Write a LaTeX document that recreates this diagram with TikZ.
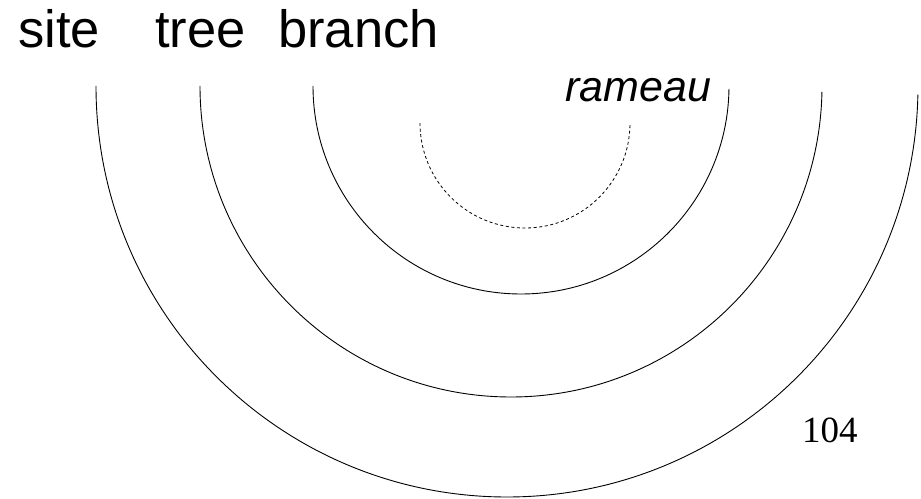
\documentclass[tikz,border=0pt]{standalone}
\usepackage{fontspec}
\setmainfont{Liberation Sans}
\newfontfamily\numfont{Liberation Serif}
\begin{document}
\begin{tikzpicture}[x=1pt,y=1pt,
  ring/.style={line width=0.9pt},
  dashring/.style={line width=0.8pt, dash pattern=on 3pt off 2.6pt},
  biglabel/.style={anchor=base west, inner sep=0pt, font=\fontsize{52.5}{62}\selectfont},
  itlabel/.style={anchor=base west, inner sep=0pt, font=\fontsize{43}{52}\selectfont\itshape},
  pagenum/.style={anchor=base west, inner sep=0pt, font=\fontsize{37}{44}\selectfont\numfont}]
  \useasboundingbox (0,0) rectangle (921,498);

  % nested half rings
  \draw[ring] (96,412) arc[start angle=180, end angle=358.8, radius=411];
  \draw[ring] (200,412) arc[start angle=180, end angle=358.9, radius=311];
  \draw[ring] (313,412) arc[start angle=180, end angle=359.2, radius=208];
  \draw[dashring] (420,375) arc[start angle=180, end angle=360, radius=105];

  % labels
  \node[biglabel] (site) at (18,450.5) {site};
  \node[biglabel] (tree) at (155,450.5) {tree};
  \node[biglabel] (branch) at (278,450.5) {branch};
  \node[itlabel] (rameau) at (565,396) {rameau};
  \node[pagenum] (page) at (802,55) {104};
\end{tikzpicture}
\end{document}
